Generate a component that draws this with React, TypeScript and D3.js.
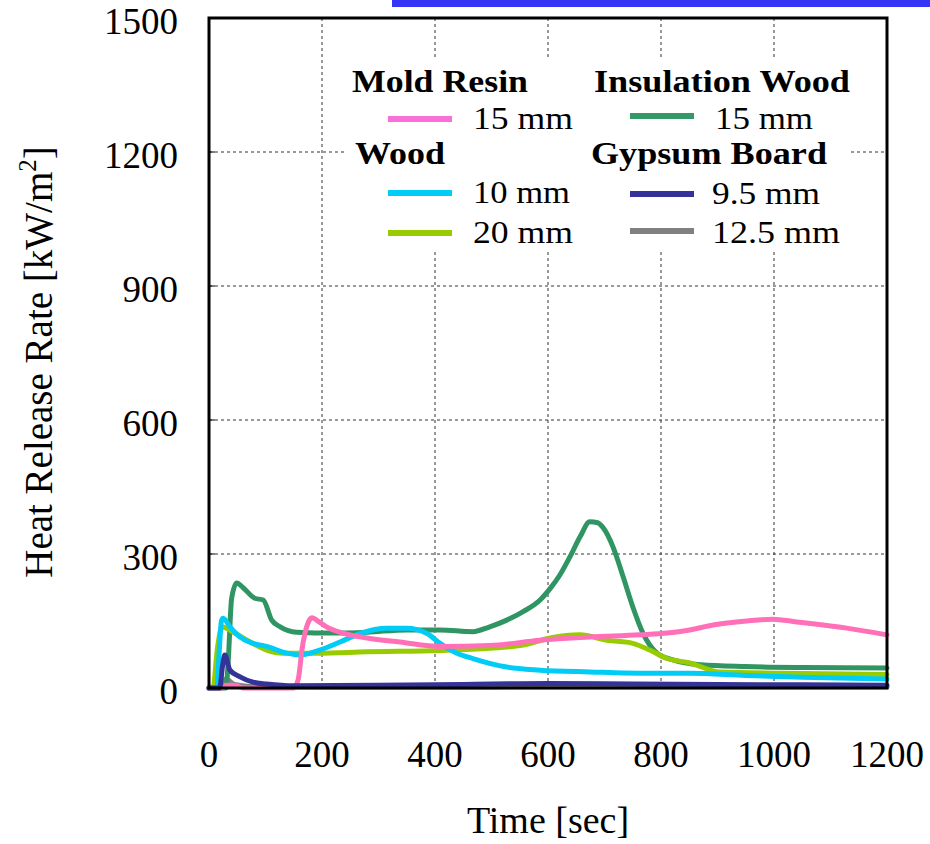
import React from "react";
import * as d3 from "d3";

// Heat release rate curves (time in sec, HRR in kW/m²)
const moldResin15T = [0, 25, 30, 40, 50, 60, 150, 158, 165, 175, 182, 195, 208, 237, 280, 338, 409, 497, 586, 674, 763, 811, 851, 892, 952, 998, 1040, 1087, 1129, 1200];
const moldResin15V = [0, 0, 6, 6, 5, 0, 0, 20, 90, 145, 157, 148, 137, 123, 112, 103, 93, 95, 107, 114, 119, 123, 130, 141, 150, 154, 148, 141, 134, 119];

const insulWood15T = [0, 30, 34, 40, 49, 60, 81, 96, 111, 126, 155, 220, 280, 350, 409, 467, 497, 527, 556, 586, 604, 621, 639, 657, 674, 688, 698, 715, 733, 750, 768, 793, 821, 870, 950, 1050, 1200];
const insulWood15V = [0, 0, 60, 200, 235, 225, 201, 197, 152, 137, 125, 123, 125, 130, 130, 126, 137, 152, 171, 197, 223, 253, 294, 339, 372, 370, 358, 316, 249, 182, 123, 78, 63, 52, 48, 46, 45];

const wood10T = [0, 14, 18, 22, 25, 37, 55, 78, 102, 138, 161, 196, 232, 267, 315, 350, 386, 409, 439, 467, 527, 586, 674, 763, 851, 950, 1050, 1200];
const wood10V = [0, 0, 80, 150, 156, 137, 114, 100, 93, 78, 74, 85, 103, 122, 134, 134, 122, 100, 78, 66, 47, 40, 36, 33, 33, 28, 24, 20];

const wood20T = [0, 7, 15, 23, 43, 73, 102, 131, 191, 280, 409, 497, 556, 604, 657, 704, 750, 780, 811, 851, 904, 1011, 1200];
const wood20V = [0, 0, 90, 137, 125, 103, 85, 78, 78, 81, 84, 89, 96, 112, 119, 107, 100, 85, 66, 56, 36, 33, 30];

const gypsum95T = [0, 19, 24, 28, 37, 55, 78, 102, 150, 300, 450, 600, 750, 900, 1050, 1200];
const gypsum95V = [0, 0, 50, 74, 40, 25, 13, 9, 5, 6, 8, 10, 9, 8, 7, 6];

const gypsum125T = [0, 20, 30, 45, 80, 200, 400, 600, 800, 1000, 1200];
const gypsum125V = [0, 0, 20, 8, 3, 2, 2, 3, 3, 3, 3];

const xTicks = [0, 200, 400, 600, 800, 1000, 1200];
const yTicks = [0, 300, 600, 900, 1200, 1500];

const seriesNames = ["12.5 mm", "Insulation 15 mm", "20 mm", "10 mm", "Mold 15 mm", "9.5 mm"];
const seriesColors = ["#808080", "#2f9563", "#99cc00", "#00ccf5", "#ff70b8", "#333399"];
const seriesTimes = [gypsum125T, insulWood15T, wood20T, wood10T, moldResin15T, gypsum95T];
const seriesValues = [gypsum125V, insulWood15V, wood20V, wood10V, moldResin15V, gypsum95V];

const W = 930;
const H = 844;
const left = 209, right = 887, top = 18, bottom = 688;

export default function App() {
  const x = d3.scaleLinear().domain([0, 1200]).range([left, right]);
  const y = d3.scaleLinear().domain([0, 1500]).range([bottom, top]);

  const line = d3
    .line<[number, number]>()
    .x((d) => x(d[0]))
    .y((d) => y(d[1]))
    .curve(d3.curveMonotoneX);

  const serif = "'Liberation Serif', 'Times New Roman', serif";

  const legendLine = (x1: number, yy: number, color: string) => (
    <line x1={x1} x2={x1 + 64} y1={yy} y2={yy} stroke={color} strokeWidth={6} />
  );

  const legendText = (tx: number, ty: number, len: number, label: string, bold = false) => (
    <text x={tx} y={ty} fontSize={31} fontWeight={bold ? "bold" : "normal"} textLength={len} lengthAdjust="spacingAndGlyphs">
      {label}
    </text>
  );

  return (
    <svg width={W} height={H} style={{ position: "absolute", left: 0, top: 0 }} fontFamily={serif}>
      <rect x={0} y={0} width={W} height={H} fill="#ffffff" />
      <rect x={392} y={0} width={W - 392} height={7} fill="#3434f6" />

      {/* grid */}
      {xTicks.slice(1, -1).map((t) => (
        <line key={"gx" + t} x1={x(t)} x2={x(t)} y1={top} y2={bottom} stroke="#333" strokeWidth={1} strokeDasharray="3,3" />
      ))}
      {yTicks.slice(1, -1).map((t) => (
        <line key={"gy" + t} x1={left} x2={right} y1={y(t)} y2={y(t)} stroke="#333" strokeWidth={1} strokeDasharray="3,3" />
      ))}
      {yTicks.slice(1, -1).map((t) => (
        <line key={"ty" + t} x1={left} x2={left + 6} y1={y(t)} y2={y(t)} stroke="#000" strokeWidth={1} />
      ))}

      {/* legend background */}
      <rect x={345} y={57} width={503} height={195} fill="#ffffff" />

      {/* curves */}
      {seriesTimes.map((ts, i) => (
        <path
          key={seriesNames[i]}
          d={line(ts.map((t, j) => [t, seriesValues[i][j]] as [number, number])) || ""}
          fill="none"
          stroke={seriesColors[i]}
          strokeWidth={5}
          strokeLinejoin="round"
          strokeLinecap="round"
        />
      ))}

      {/* frame */}
      <rect x={left} y={top} width={right - left} height={bottom - top} fill="none" stroke="#000" strokeWidth={3} />

      {/* tick labels */}
      {yTicks.map((t) => (
        <text key={"yl" + t} x={178} y={y(t) + 3} textAnchor="end" dominantBaseline="central" fontSize={37} fill="#000">
          {t}
        </text>
      ))}
      {xTicks.map((t) => (
        <text key={"xl" + t} x={x(t)} y={754} textAnchor="middle" dominantBaseline="central" fontSize={37} fill="#000">
          {t}
        </text>
      ))}

      {/* axis titles */}
      <text x={548} y={833} textAnchor="middle" fontSize={38} fill="#000">
        Time [sec]
      </text>
      <text transform="translate(52,362) rotate(-90)" textAnchor="middle" fontSize={39} fill="#000">
        Heat Release Rate [kW/m<tspan fontSize={25} dy={-16}>2</tspan><tspan dy={16}>]</tspan>
      </text>

      {/* legend */}
      <g fill="#000">
        {legendText(352, 92, 176, "Mold Resin", true)}
        {legendLine(388, 119, "#fb6fd9")}
        {legendText(473, 129, 100, "15 mm")}

        {legendText(355, 164, 90, "Wood", true)}
        {legendLine(388, 193, "#00ccf5")}
        {legendText(473, 203, 97, "10 mm")}
        {legendLine(388, 233, "#99cc00")}
        {legendText(473, 243, 100, "20 mm")}

        {legendText(594, 92, 256, "Insulation Wood", true)}
        {legendLine(630, 116, "#339966")}
        {legendText(715, 129, 98, "15 mm")}

        {legendText(591, 164, 236, "Gypsum Board", true)}
        {legendLine(630, 194, "#333399")}
        {legendText(712, 204, 108, "9.5 mm")}
        {legendLine(630, 231, "#808080")}
        {legendText(712, 243, 128, "12.5 mm")}
      </g>
    </svg>
  );
}
